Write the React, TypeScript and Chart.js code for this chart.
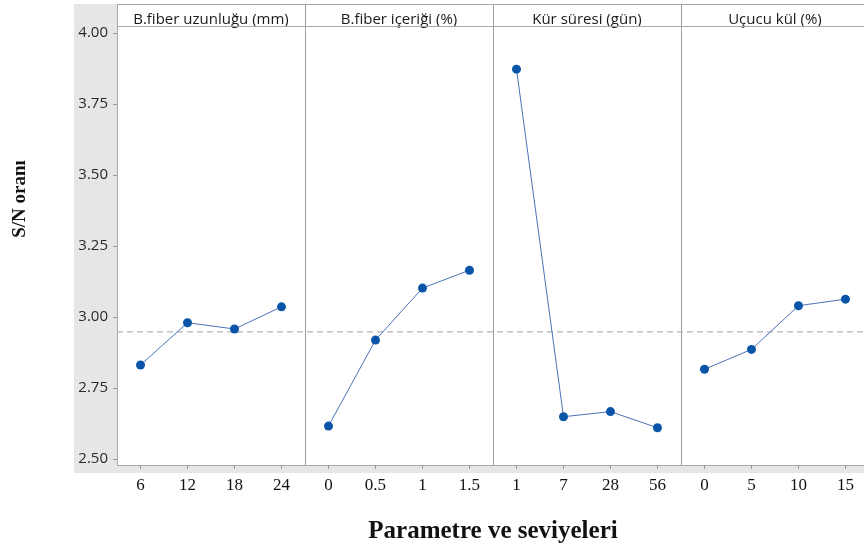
import React, { useEffect, useRef } from "react";
import { Chart, registerables } from "chart.js";

Chart.register(...registerables);

const panelTitles = ["B.fiber uzunluğu (mm)", "B.fiber içeriği (%)", "Kür süresi (gün)", "Uçucu kül (%)"];
const fiberLengthLevels = ["6", "12", "18", "24"];
const fiberContentLevels = ["0", "0.5", "1", "1.5"];
const curingLevels = ["1", "7", "28", "56"];
const flyAshLevels = ["0", "5", "10", "15"];

const snFiberLength = [2.831, 2.98, 2.958, 3.036];
const snFiberContent = [2.616, 2.919, 3.102, 3.165];
const snCuring = [3.873, 2.649, 2.667, 2.61];
const snFlyAsh = [2.816, 2.886, 3.04, 3.063];
const overallMean = 2.948;

const yTicks = [2.5, 2.75, 3.0, 3.25, 3.5, 3.75, 4.0];
const yMin = 2.479;
const yMax = 4.025;

const yTitle = "S/N oranı";
const xTitle = "Parametre ve seviyeleri";

const levelGroups = [fiberLengthLevels, fiberContentLevels, curingLevels, flyAshLevels];
const seriesGroups = [snFiberLength, snFiberContent, snCuring, snFlyAsh];
const perPanel = 4;
const xMin = -0.5;
const xMax = 15.394;

const POINT_COLOR = "#0a55a8";
const LINE_COLOR = "#4a74b8";

const flatLabels = levelGroups.flat();
const flatPositions = levelGroups.flatMap((g, p) => g.map((_, i) => p * perPanel + i));

const HEADER_H = 22;

const framePlugin = {
  id: "framePlugin",
  beforeDraw(chart: any) {
    const { ctx, chartArea } = chart;
    const xs = chart.scales.x;
    const headerTop = chartArea.top - HEADER_H;
    ctx.save();
    ctx.fillStyle = "#e6e6e6";
    ctx.fillRect(74, 4, chart.width - 74, chartArea.bottom + 8 - 4);
    ctx.fillStyle = "#ffffff";
    ctx.fillRect(chartArea.left, headerTop, chartArea.right - chartArea.left, chartArea.bottom - headerTop);
    ctx.strokeStyle = "#a8a8a8";
    ctx.lineWidth = 1;
    ctx.beginPath();
    ctx.moveTo(chartArea.left, headerTop + 0.5);
    ctx.lineTo(chartArea.right, headerTop + 0.5);
    ctx.moveTo(chartArea.left, chartArea.bottom + 0.5);
    ctx.lineTo(chartArea.right, chartArea.bottom + 0.5);
    ctx.moveTo(chartArea.left + 0.5, headerTop);
    ctx.lineTo(chartArea.left + 0.5, chartArea.bottom);
    ctx.stroke();
    ctx.strokeStyle = "#9c9c9c";
    ctx.beginPath();
    for (let p = 1; p < levelGroups.length; p++) {
      const px = Math.round(xs.getPixelForValue(p * perPanel - 0.5)) + 0.5;
      ctx.moveTo(px, headerTop);
      ctx.lineTo(px, chartArea.bottom);
    }
    ctx.stroke();
    ctx.fillStyle = "#1a1a1a";
    ctx.font = "15px 'Open Sans', sans-serif";
    ctx.textAlign = "center";
    ctx.textBaseline = "alphabetic";
    panelTitles.forEach((t, p) => {
      const l = xs.getPixelForValue(p * perPanel - 0.5);
      const r = xs.getPixelForValue(p * perPanel + perPanel - 0.5);
      ctx.fillText(t, (l + r) / 2, chartArea.top - 2);
    });
    ctx.strokeStyle = "#a8a8a8";
    ctx.beginPath();
    ctx.moveTo(chartArea.left, chartArea.top + 0.5);
    ctx.lineTo(chartArea.right, chartArea.top + 0.5);
    ctx.stroke();
    ctx.restore();
  },
  afterDraw(chart: any) {
    const { ctx } = chart;
    ctx.save();
    ctx.fillStyle = "#111111";
    ctx.font = "bold 25px 'Liberation Serif', 'Times New Roman', serif";
    ctx.textAlign = "center";
    ctx.textBaseline = "alphabetic";
    ctx.fillText(xTitle, 493, 538);
    ctx.translate(20, 199);
    ctx.rotate(-Math.PI / 2);
    ctx.textBaseline = "middle";
    ctx.font = "bold 19px 'Liberation Serif', 'Times New Roman', serif";
    ctx.fillText(yTitle, 0, 0);
    ctx.restore();
  },
};

export default function App() {
  const ref = useRef<HTMLCanvasElement | null>(null);

  useEffect(() => {
    if (!ref.current) return;
    const panelDatasets = seriesGroups.map((vals, p) => ({
      label: panelTitles[p],
      data: vals.map((v, i) => ({ x: p * perPanel + i, y: v })),
      borderColor: LINE_COLOR,
      borderWidth: 1,
      pointBackgroundColor: POINT_COLOR,
      pointBorderColor: POINT_COLOR,
      pointRadius: 4.5,
      pointBorderWidth: 0,
      showLine: true,
      tension: 0,
      order: 0,
    }));
    const chart = new Chart(ref.current, {
      type: "scatter",
      data: {
        datasets: [
          ...panelDatasets,
          {
            label: "Ortalama",
            data: [
              { x: xMin, y: overallMean },
              { x: xMax, y: overallMean },
            ],
            borderColor: "#b4b4b4",
            borderWidth: 1.2,
            borderDash: [6, 4],
            pointRadius: 0,
            showLine: true,
            order: 1,
          } as any,
        ],
      },
      options: {
        animation: false,
        responsive: false,
        layout: { autoPadding: false, padding: { left: 0, top: 26, right: 0, bottom: 0 } },
        plugins: { legend: { display: false }, tooltip: { enabled: false }, title: { display: false } },
        scales: {
          x: {
            type: "linear",
            min: xMin,
            max: xMax,
            afterFit: (s: any) => {
              s.height = 84;
              s.paddingLeft = 0;
              s.paddingRight = 0;
            },
            afterBuildTicks: (s: any) => {
              s.ticks = flatPositions.map((v) => ({ value: v }));
            },
            ticks: {
              autoSkip: false,
              maxRotation: 0,
              padding: 6,
              color: "#111111",
              font: { family: "'Liberation Serif', 'Times New Roman', serif", size: 17 },
              callback: (_v: any, i: number) => flatLabels[i],
            },
            grid: { drawOnChartArea: false, drawTicks: true, tickLength: 4, color: "#9a9a9a" },
            border: { display: false },
          },
          y: {
            type: "linear",
            min: yMin,
            max: yMax,
            afterFit: (s: any) => {
              s.width = 117;
              s.paddingTop = 0;
              s.paddingBottom = 0;
            },
            afterBuildTicks: (s: any) => {
              s.ticks = yTicks.map((v) => ({ value: v }));
            },
            ticks: {
              padding: 5,
              color: "#2a2a2a",
              font: { family: "'Open Sans', sans-serif", size: 15 },
              callback: (v: any) => Number(v).toFixed(2),
            },
            grid: { drawOnChartArea: false, drawTicks: true, tickLength: 4, color: "#9a9a9a" },
            border: { display: false },
          },
        },
      },
      plugins: [framePlugin],
    });
    return () => chart.destroy();
  }, []);

  return (
    <div style={{ position: "fixed", left: 0, top: 0, width: 864, height: 549, background: "#ffffff" }}>
      <canvas ref={ref} width={864} height={549} style={{ width: 864, height: 549, display: "block" }} />
    </div>
  );
}
